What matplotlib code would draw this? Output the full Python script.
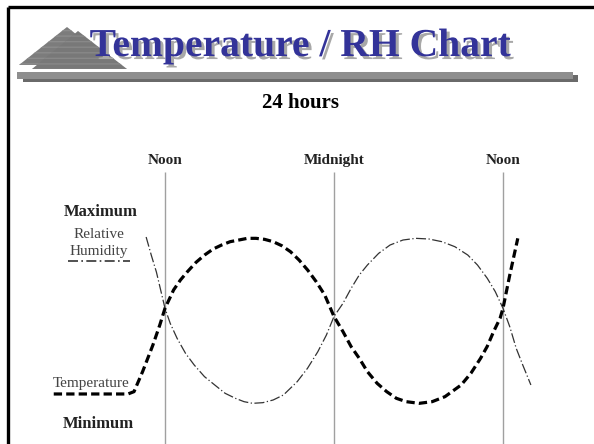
import matplotlib
matplotlib.use('Agg')
import matplotlib.pyplot as plt
import matplotlib.patheffects as pe
from matplotlib.patches import Polygon, Rectangle

plt.rcParams['font.family'] = ['Liberation Serif', 'DejaVu Serif']

# hours of the day (noon = 12, midnight = 24, next noon = 36)
marker_hours = [12, 24, 36]
marker_labels = ['Noon', 'Midnight', 'Noon']

# relative level: 0 = minimum, 100 = maximum
temp_hours = [4.10, 9.37, 9.80, 10.41, 11.14, 11.63, 12.0, 12.61, 13.10, 13.59,
              14.20, 14.81, 15.42, 16.02, 16.63, 17.25, 17.85, 18.46, 19.07,
              19.68, 20.29, 20.91, 21.52, 22.13, 22.74, 23.34, 24.0, 24.64,
              25.22, 25.79, 26.37, 27.06, 27.74, 28.43, 29.12, 30.05, 30.97,
              31.88, 33.03, 33.72, 34.41, 34.88, 35.33, 35.79, 36.0, 36.48, 37.05]
temp_level = [6.0, 6.0, 7.4, 19.4, 35.3, 47.3, 57.3, 68.3, 74.3, 79.2,
              84.8, 89.2, 92.8, 95.2, 97.2, 98.2, 99.2, 99.2, 98.6,
              97.2, 94.8, 91.2, 86.2, 80.2, 73.2, 65.3, 52.4, 43.3,
              34.3, 27.4, 19.4, 12.4, 7.4, 3.4, 1.4, 0.4, 1.4,
              4.4, 11.4, 18.4, 27.4, 34.5, 43.3, 51.3, 57.3, 77.2, 99.2]

rh_hours = [10.66, 11.03, 11.39, 11.69, 12.0, 12.37, 12.86, 13.46, 14.07, 14.80,
            15.53, 16.27, 17.00, 17.61, 18.22, 18.95, 19.68, 20.41, 21.39,
            22.12, 22.85, 23.46, 24.0, 24.64, 25.22, 25.79, 26.37, 27.17,
            27.98, 28.90, 29.81, 30.74, 31.66, 32.58, 33.50, 34.19, 34.88,
            35.45, 36.0, 36.48, 36.94, 37.40, 37.98]
rh_level = [100, 89.0, 79.0, 68.3, 57.3, 48.3, 39.3, 30.3, 23.4, 16.4,
            11.4, 6.4, 3.4, 1.4, 0.4, 0.8, 2.4, 5.4, 13.4,
            21.4, 31.3, 41.3, 52.4, 60.3, 69.3, 77.2, 83.2, 90.2,
            95.2, 98.2, 99.2, 98.8, 97.2, 94.2, 89.2, 83.2, 75.3,
            67.3, 57.3, 46.3, 33.3, 23.4, 11.4]

fig = plt.figure(figsize=(5.94, 4.44), dpi=100)

# background layer in pixel coordinates (slide decoration and labels)
bg = fig.add_axes([0, 0, 1, 1])
bg.set_xlim(0, 594)
bg.set_ylim(444, 0)
bg.axis('off')

# slide frame
bg.plot([7.5, 594], [7.5, 7.5], color='black', lw=2.4, solid_capstyle='butt')
bg.plot([7.5, 7.5], [7.5, 444], color='black', lw=2.4, solid_capstyle='butt')

# grey mountains and rule under the title
bg.add_patch(Polygon([[19, 65], [67, 27], [115, 65]], closed=True,
                     facecolor='#7c7c7c', edgecolor='#8c8c8c', hatch='---', lw=0))
bg.add_patch(Polygon([[32, 69], [78, 31], [127, 69]], closed=True,
                     facecolor='#787878', edgecolor='#888888', hatch='---', lw=0))
bg.add_patch(Rectangle((23, 75), 555, 7, facecolor='#6a6a6a', lw=0))
bg.add_patch(Rectangle((17, 72), 556, 7, facecolor='#8e8e8e', lw=0))

# title with its shadow
bg.text(300, 56, 'Temperature / RH Chart', fontsize=28.5, fontweight='bold',
        color='#333399', ha='center', va='baseline',
        path_effects=[pe.withSimplePatchShadow(offset=(2.2, -2.2),
                                               shadow_rgbFace='#a8a8a8', alpha=1)])
bg.text(300, 108, '24 hours', fontsize=15, fontweight='bold',
        color='black', ha='center', va='baseline')

# left side labels
bg.text(101, 216, 'Maximum', fontsize=12, fontweight='bold', color='#222222',
        ha='center', va='baseline')
bg.text(98.5, 238, 'Relative', fontsize=11, color='#444444', ha='center', va='baseline')
bg.text(98.5, 255, 'Humidity', fontsize=11, color='#444444', ha='center', va='baseline')
bg.plot([68, 130], [261, 261], color='#333333', lw=1.2, linestyle=(0, (6, 2, 1, 2)))
bg.text(91, 387, 'Temperature', fontsize=11, color='#444444', ha='center', va='baseline')
bg.text(98.5, 428, 'Minimum', fontsize=12, fontweight='bold', color='#222222',
        ha='center', va='baseline')

# chart layer: hours on x, relative level on y
ax = fig.add_axes([0, 0, 1, 1])
ax.patch.set_alpha(0)
ax.set_xlim(12 - 165 / 14.083, 36 + 91 / 14.083)
ax.set_ylim(-(444 - 404) / 1.67, 100 + 237 / 1.67)
ax.axis('off')

ax.vlines(marker_hours, -30, 139, color='#a0a0a0', lw=1)
for h, lab in zip(marker_hours, marker_labels):
    ax.text(h, 144, lab, fontsize=11, fontweight='bold', color='#222222',
            ha='center', va='baseline')

ax.plot(rh_hours, rh_level, color='#333333', lw=0.9, linestyle=(0, (8, 2, 1, 2)))
ax.plot(temp_hours, temp_level, color='black', lw=2.3, linestyle=(0, (2.6, 1.3)))

fig.savefig('out.png', dpi=100)
